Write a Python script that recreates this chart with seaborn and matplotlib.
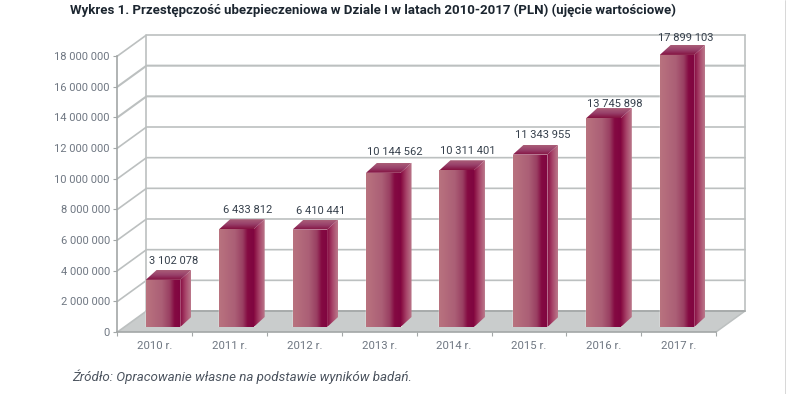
#import
import numpy as np
import matplotlib
matplotlib.use('Agg')
import matplotlib.pyplot as plt
from matplotlib.colors import LinearSegmentedColormap
from matplotlib.lines import Line2D
from matplotlib.patches import Polygon
import seaborn as sns

#data
years = ['2010 r.', '2011 r.', '2012 r.', '2013 r.', '2014 r.', '2015 r.', '2016 r.', '2017 r.']
values = [3102078, 6433812, 6410441, 10144562, 10311401, 11343955, 13745898, 17899103]
y_ticks = [0, 2000000, 4000000, 6000000, 8000000, 10000000, 12000000, 14000000, 16000000, 18000000]

title = 'Wykres 1. Przestępczość ubezpieczeniowa w Dziale I w latach 2010-2017 (PLN) (ujęcie wartościowe)'
source = 'Źródło: Opracowanie własne na podstawie wyników badań.'

#label offsets from the bar corner, px
label_dx = [11, 11, 11, 11, 11, 13, 11, 9]
label_dy = [19, 19, 19, 21, 19, 20, 14, 17]

#colours
grid_col = '#bcc0c0'
tick_col = '#6f7782'
front_cmap = LinearSegmentedColormap.from_list('front', [(0, '#b9737f'), (0.45, '#ab5f76'), (0.68, '#9a3f62'), (0.82, '#840a42'), (1, '#800540')])
side_cmap = LinearSegmentedColormap.from_list('side', ['#85083f', '#a8456a', '#bb7a8c'])
top_cmap = LinearSegmentedColormap.from_list('top', ['#aa5f78', '#98406a', '#84103f'])


def px_axes(fig, left, right, bottom, top):
    W, H = fig.get_size_inches() * fig.dpi
    return fig.add_axes([left / W, 1 - bottom / H, (right - left) / W, (bottom - top) / H])


def shaded(ax, pts, x0, x1, y0, y1, cmap, vertical=False):
    ramp = np.linspace(0, 1, 256)
    ramp = ramp[:, None] if vertical else ramp[None, :]
    img = ax.imshow(ramp, extent=[x0, x1, y0, y1], cmap=cmap,
                    aspect='auto', zorder=3, interpolation='bilinear')
    #images stop at the axes box unless told otherwise
    img.set_clip_box(ax.figure.bbox)
    img.set_clip_path(Polygon(pts, closed=True, transform=ax.transData))


if __name__ == '__main__':
    sns.set_theme(style='white')
    plt.rcParams['font.family'] = ['Roboto', 'DejaVu Sans']
    fig = plt.figure(figsize=(7.86, 3.94), dpi=100)

    #dark page edge on the right
    fig.add_artist(Line2D([785.5 / 786] * 2, [0, 1], color='#3a3a3a', lw=1, transform=fig.transFigure))

    #base axes: the front edge of the box
    ax = px_axes(fig, 117.5, 716, 332, 56)
    ax.set_xlim(-0.5, 7.5)
    ax.set_ylim(0, 18000000)
    ax.patch.set_alpha(0)
    depth_x = 29 / (598.5 / 8)
    depth_y = 21 / (276 / 18000000)
    x0, x1 = -0.5, 7.5
    #back wall and floor
    ax.add_patch(Polygon([(x0, 0), (x1, 0), (x1 + depth_x, depth_y), (x0 + depth_x, depth_y)], closed=True,
                         fc='#c9cccc', ec='none', clip_on=False, zorder=1))
    for t in y_ticks:
        lw = 1.5 if t in (14000000, 16000000) else 1.2
        ax.plot([x0, x0 + depth_x, x1 + depth_x], [t, t + depth_y, t + depth_y], color=grid_col, lw=lw,
                clip_on=False, zorder=2)
    ax.plot([x0 + depth_x] * 2, [depth_y, 18000000 + depth_y], color=grid_col, lw=1.2, clip_on=False, zorder=2)
    ax.plot([x1 + depth_x] * 2, [depth_y, 18000000 + depth_y], color=grid_col, lw=1.2, clip_on=False, zorder=2)
    ax.plot([x1, x1 + depth_x], [0, depth_y], color=grid_col, lw=1.1, clip_on=False, zorder=2)
    ax.plot([x0 + depth_x, x1 + depth_x], [depth_y, depth_y], color='#a3a7a7', lw=1.2, clip_on=False, zorder=2)

    ax.set_yticks(y_ticks, [f'{t:,}'.replace(',', ' ') for t in y_ticks])
    ax.set_xticks(range(len(years)), years)
    ax.set_xticks(np.arange(-0.5, 8), minor=True)
    ax.tick_params(axis='x', which='major', length=0, pad=6.5, labelsize=8.2, labelcolor=tick_col)
    ax.tick_params(axis='x', which='minor', length=3, width=0.8, color='#a3a7a7', bottom=True)
    ax.tick_params(axis='y', length=3, width=0.8, color='#a3a7a7', left=True, pad=2.5, labelsize=8, labelcolor=tick_col)
    sns.despine(ax=ax, top=True, right=True)
    for side in ('left', 'bottom'):
        ax.spines[side].set_color('#a3a7a7')
        ax.spines[side].set_linewidth(1.2)

    #bars sit on their own axes, slightly inset on the floor
    bx = px_axes(fig, 126.3, 713.7, 327, 53.4)
    sns.barplot(x=years, y=values, ax=bx, width=0.47, color='#a04f6c', saturation=1)
    bx.set_xlim(-0.5, 7.5)
    bx.set_ylim(0, 18000000)
    bx.axis('off')
    bw = 0.47 / 2
    dx = 11 / 73.43
    dy = 10 / (273.6 / 18000000)
    for i, v in enumerate(values):
        l, r = i - bw, i + bw
        shaded(bx, [(l, 0), (r, 0), (r, v), (l, v)], l, r, 0, v, front_cmap)
        shaded(bx, [(r, 0), (r + dx, dy), (r + dx, v + dy), (r, v)], r, r + dx, 0, v + dy, side_cmap)
        shaded(bx, [(l, v), (r, v), (r + dx, v + dy), (l + dx, v + dy)], l, r + dx, v, v + dy, top_cmap, vertical=True)
        bx.annotate(f'{v:,}'.replace(',', ' '), (i, v), xytext=(label_dx[i] * 0.72, label_dy[i] * 0.72),
                    textcoords='offset points', ha='center', va='center', fontsize=8, color='#36404c',
                    annotation_clip=False, zorder=5)
    bx.set_xlim(-0.5, 7.5)
    bx.set_ylim(0, 18000000)

    #texts
    fig.text(70 / 786, 1 - 10.5 / 394, title, fontsize=9.5, fontweight='bold', color='#1c2630', ha='left', va='center')
    fig.text(72 / 786, 1 - 377 / 394, source, fontsize=9.6, style='italic', color='#4d5560', ha='left', va='center')

    fig.savefig('out.png', dpi=100)
